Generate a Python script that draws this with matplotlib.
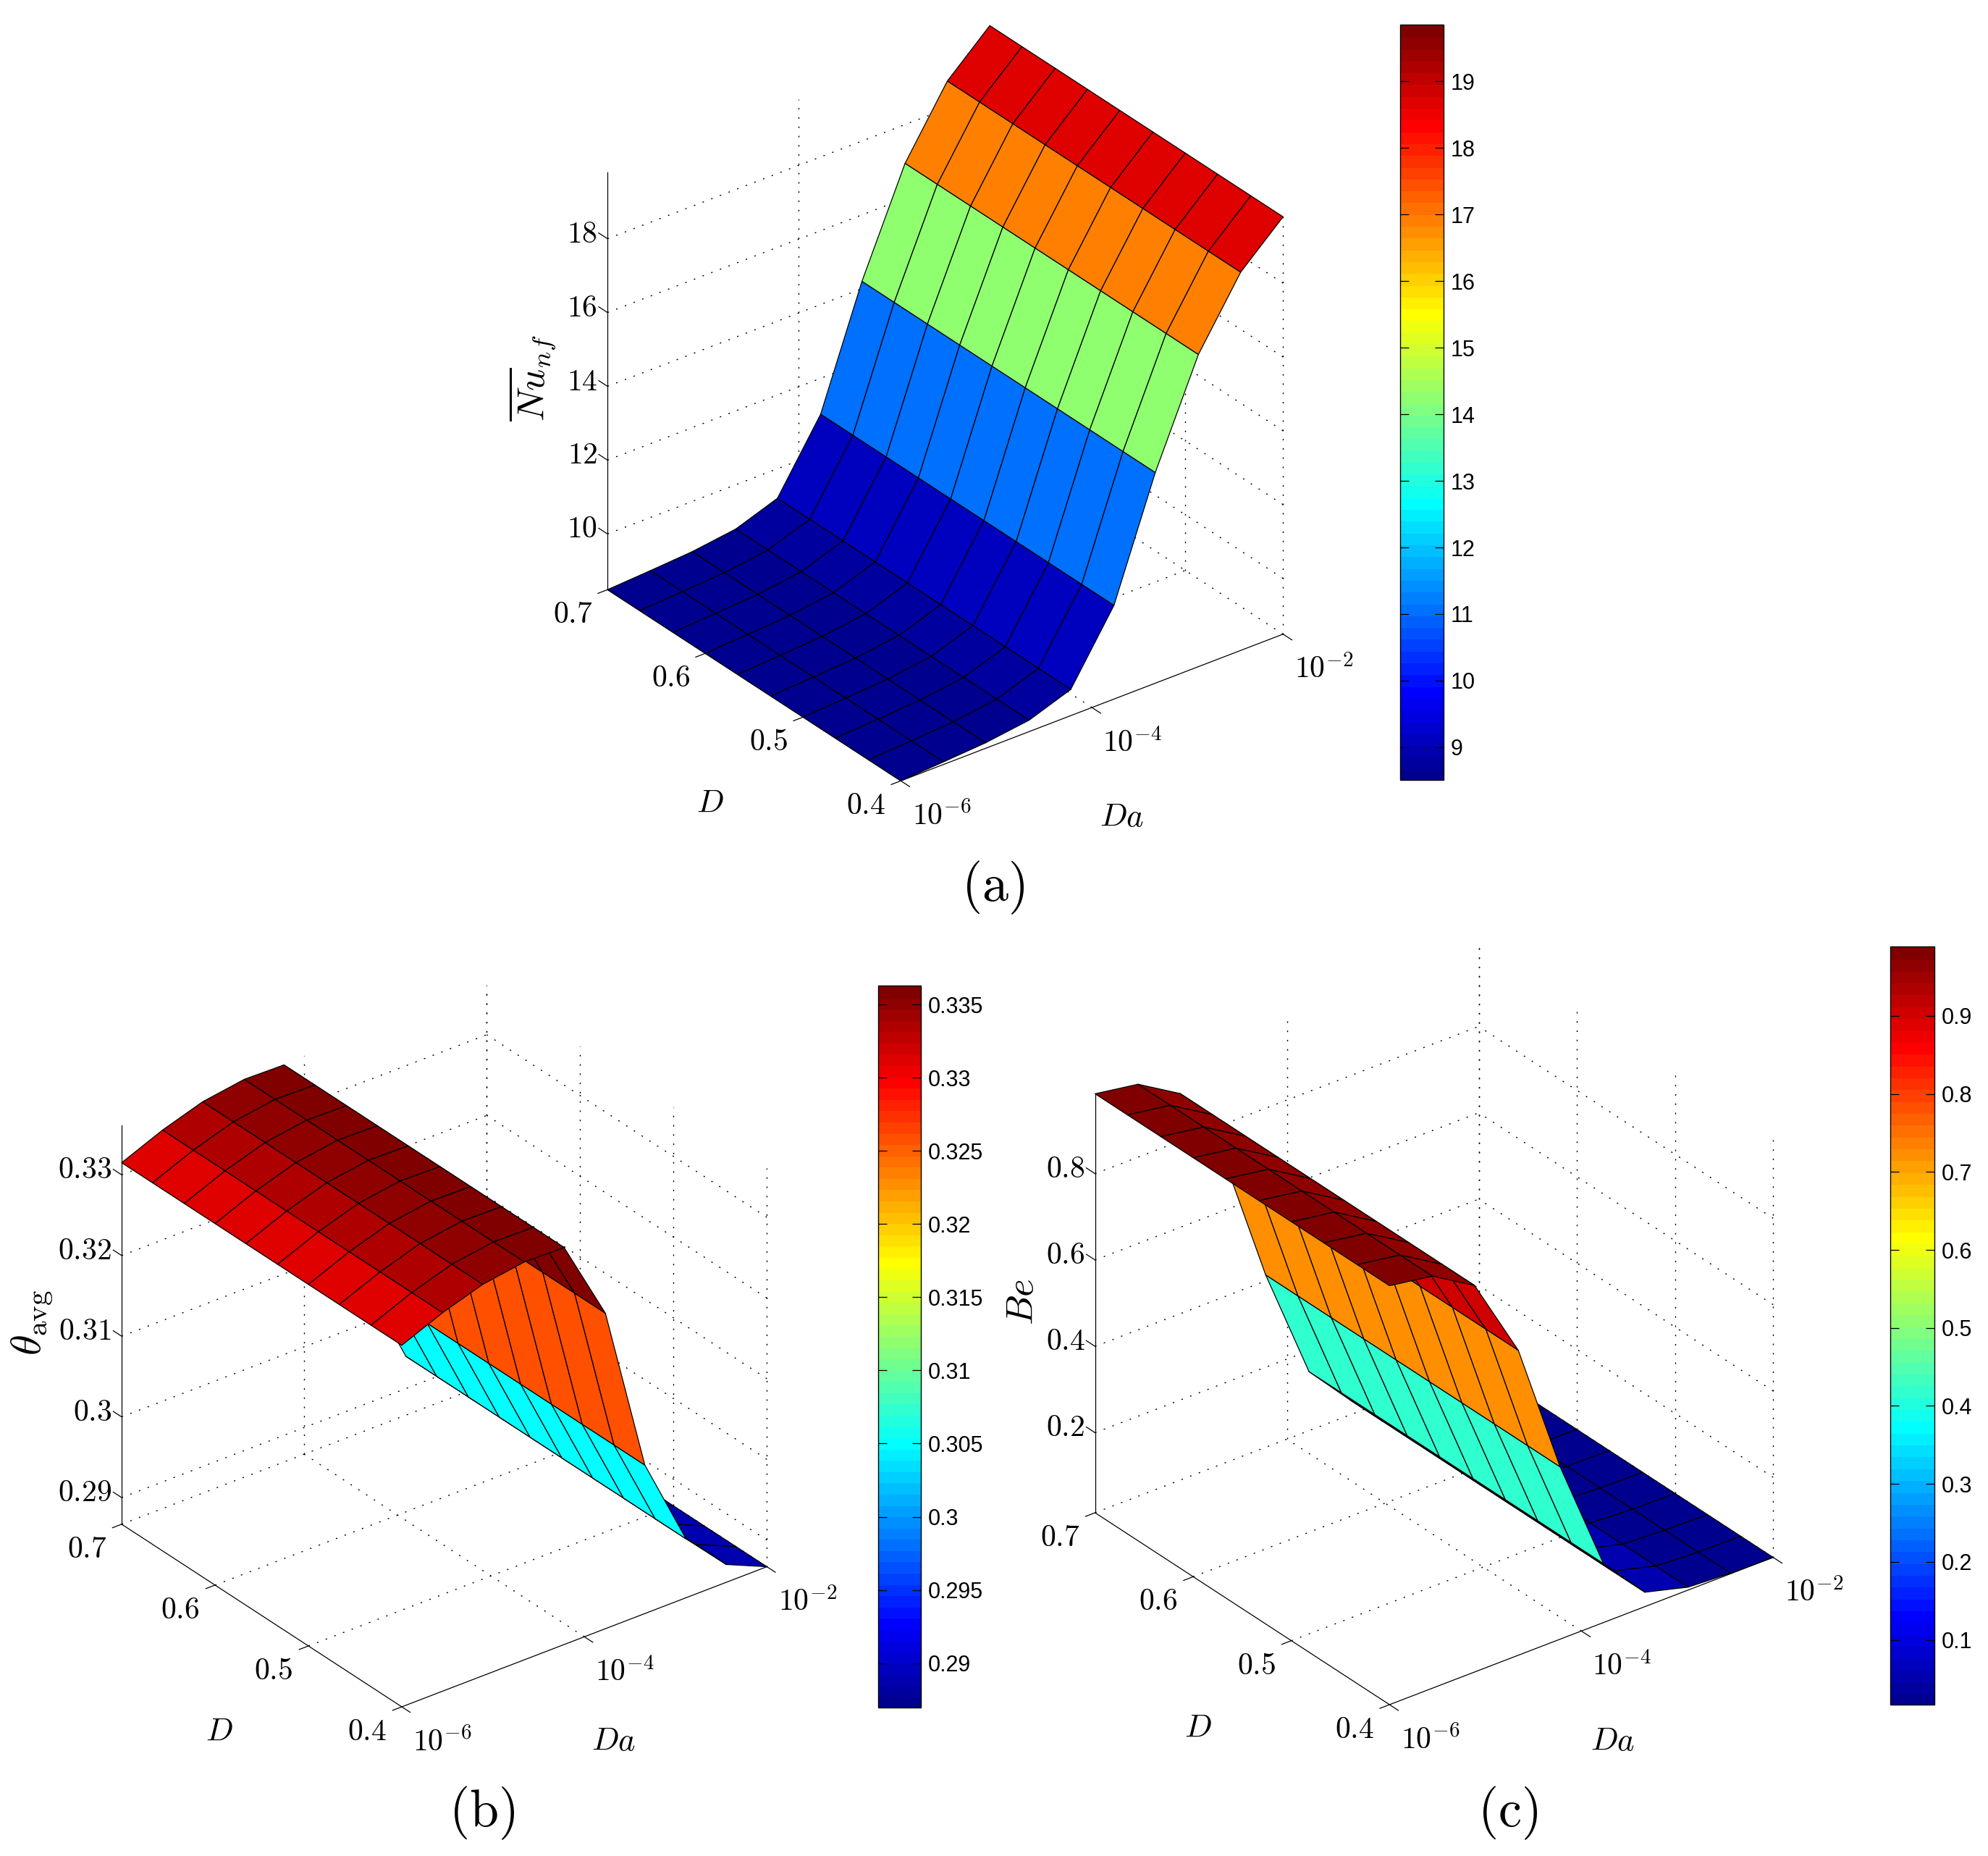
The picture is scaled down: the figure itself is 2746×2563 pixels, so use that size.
import numpy as np
import matplotlib
matplotlib.use('Agg')
import matplotlib.pyplot as plt
from matplotlib.cm import ScalarMappable
from matplotlib.colors import ListedColormap, Normalize
from mpl_toolkits.mplot3d import proj3d

plt.rcParams['mathtext.fontset'] = 'cm'
plt.rcParams['font.family'] = ['Liberation Sans', 'DejaVu Sans']

# the surfaces do not change along D, so one profile per panel
Da = [1e-6, 2.8e-6, 7.7e-6, 2.2e-5, 6e-5, 1.7e-4, 4.6e-4, 1.3e-3, 3.6e-3, 1e-2]
D = [0.4, 0.433, 0.467, 0.5, 0.533, 0.567, 0.6, 0.633, 0.667, 0.7]

nu_vals = [8.49, 8.56, 8.64, 8.8, 9.2, 11.03, 14.2, 16.95, 18.74, 19.8]
theta_vals = [0.3315, 0.3336, 0.3352, 0.336, 0.3359, 0.3258, 0.3051, 0.294, 0.2889, 0.2867]
be_vals = [0.985, 0.969, 0.91, 0.721, 0.414, 0.1512, 0.048, 0.0213, 0.016, 0.0146]

nu_ticks = [10, 12, 14, 16, 18]
nu_ticklabels = ['10', '12', '14', '16', '18']
theta_ticks = [0.29, 0.30, 0.31, 0.32, 0.33]
theta_ticklabels = ['0.29', '0.3', '0.31', '0.32', '0.33']
be_ticks = [0.2, 0.4, 0.6, 0.8]
be_ticklabels = ['0.2', '0.4', '0.6', '0.8']

nu_cbar_ticks = [9, 10, 11, 12, 13, 14, 15, 16, 17, 18, 19]
nu_cbar_labels = ['9', '10', '11', '12', '13', '14', '15', '16', '17', '18', '19']
theta_cbar_ticks = [0.29, 0.295, 0.30, 0.305, 0.31, 0.315, 0.32, 0.325, 0.33, 0.335]
theta_cbar_labels = ['0.29', '0.295', '0.3', '0.305', '0.31', '0.315', '0.32', '0.325', '0.33', '0.335']
be_cbar_ticks = [0.1, 0.2, 0.3, 0.4, 0.5, 0.6, 0.7, 0.8, 0.9]
be_cbar_labels = ['0.1', '0.2', '0.3', '0.4', '0.5', '0.6', '0.7', '0.8', '0.9']

D_ticks = [0.4, 0.5, 0.6, 0.7]
D_ticklabels = ['0.4', '0.5', '0.6', '0.7']
Da_ticks = [-6, -4, -2]
Da_ticklabels = ['$10^{-6}$', '$10^{-4}$', '$10^{-2}$']

W, H = 2746, 2563
fig = plt.figure(figsize=(W / 100, H / 100), dpi=100)


def matlab_jet(m=64):
    n = m // 4
    u = np.r_[np.arange(1, n + 1) / n, np.ones(n - 1), np.arange(n, 0, -1) / n]
    g = n // 2 + np.arange(1, len(u) + 1)
    r = g + n
    b = g - n
    cols = np.zeros((m, 3))
    cols[g[g <= m] - 1, 1] = u[g <= m]
    cols[r[r <= m] - 1, 0] = u[r <= m]
    cols[b[b >= 1] - 1, 2] = u[b >= 1]
    return ListedColormap(cols)


jet = matlab_jet()
dotted = (0, (1.5, 7.7))


def put_text(x, y, s, size, rot=0):
    fig.text(x / W, 1 - y / H, s, fontsize=size, rotation=rot, ha='center', va='center')


def surface_panel(vals, zlim, zticks, zlabels, origin, xspan, cbox, clim, cticks, clabels,
                  zlabel, zlabel_size, zlabel_xy, d_xy, da_xy, title, title_xy):
    ax = fig.add_axes([0.1, 0.1, 0.4, 0.4], projection='3d', proj_type='ortho',
                      computed_zorder=False)
    ax.set_axis_off()
    ax.patch.set_alpha(0)
    ax.set_box_aspect((1, 1, 1))
    ax.view_init(elev=30, azim=-127.5)
    ax.set_xlim(-6, -2, view_margin=0)
    ax.set_ylim(0.4, 0.7, view_margin=0)
    ax.set_zlim(zlim[0], zlim[1], view_margin=0)

    # scale and place the box so its corner lands where the reference has it
    M = ax.get_proj()
    ax.apply_aspect()

    def to_axes(x, y, z):
        px, py, _ = proj3d.proj_transform(x, y, z, M)
        return ax.transAxes.inverted().transform(ax.transData.transform((px, py)))

    a0 = to_axes(-6, 0.4, zlim[0])
    a1 = to_axes(-2, 0.4, zlim[0])
    L = xspan / (a1[0] - a0[0])
    x0 = origin[0] - L * a0[0]
    y0 = (H - origin[1]) - L * a0[1]
    ax.set_position([x0 / W, y0 / H, L / W, L / H])
    ax.apply_aspect()

    def tick_text(x, y, z, s, dx, dy, ha):
        px, py, _ = proj3d.proj_transform(x, y, z, M)
        p = ax.transData.transform((px, py))
        fig.text((p[0] + dx) / W, (p[1] + dy) / H, s, fontsize=30, ha=ha, va='center')

    # dotted grid on floor and the two back walls
    gs = dict(color='k', lw=1.0, ls=dotted, zorder=1)
    for xt in Da_ticks[1:]:
        ax.plot([xt, xt], [0.4, 0.7], [zlim[0], zlim[0]], **gs)
        ax.plot([xt, xt], [0.7, 0.7], zlim, **gs)
    for yt in D_ticks[1:]:
        ax.plot([-6, -2], [yt, yt], [zlim[0], zlim[0]], **gs)
    for yt in D_ticks:
        ax.plot([-2, -2], [yt, yt], zlim, **gs)
    for zt in zticks:
        ax.plot([-6, -2], [0.7, 0.7], [zt, zt], **gs)
        ax.plot([-2, -2], [0.4, 0.7], [zt, zt], **gs)

    # solid axes and tick stubs
    ls = dict(color='k', lw=0.9, zorder=1.5)
    ax.plot([-6, -2], [0.4, 0.4], [zlim[0], zlim[0]], **ls)
    ax.plot([-6, -6], [0.4, 0.7], [zlim[0], zlim[0]], **ls)
    ax.plot([-6, -6], [0.7, 0.7], zlim, **ls)
    for xt in Da_ticks:
        ax.plot([xt, xt], [0.4, 0.391], [zlim[0], zlim[0]], **ls)
    for yt in D_ticks:
        ax.plot([-6, -6.1], [yt, yt], [zlim[0], zlim[0]], **ls)
    for zt in zticks:
        ax.plot([-6, -6], [0.7, 0.709], [zt, zt], **ls)

    # surface, flat colour from the first vertex of each cell
    X, Y = np.meshgrid(np.log10(Da), D)
    Z = np.tile(vals, (len(D), 1))
    norm = Normalize(clim[0], clim[1])
    ax.plot_surface(X, Y, Z, facecolors=jet(norm(Z)), rstride=1, cstride=1, shade=False,
                    edgecolor='k', linewidth=0.9, antialiased=True, zorder=2)

    for yt, s in zip(D_ticks, D_ticklabels):
        tick_text(-6, yt, zlim[0], '$' + s + '$', -48, -35, 'center')
    for xt, s in zip(Da_ticks, Da_ticklabels):
        tick_text(xt, 0.4, zlim[0], s, 56, -50, 'center')
    for zt, s in zip(zticks, zlabels):
        tick_text(-6, 0.7, zt, '$' + s + '$', -14, 6, 'right')

    put_text(zlabel_xy[0], zlabel_xy[1], zlabel, zlabel_size, rot=90)
    put_text(d_xy[0], d_xy[1], '$D$', 32)
    put_text(da_xy[0], da_xy[1], '$Da$', 32)
    put_text(title_xy[0], title_xy[1], title, 52)

    # colorbar box given as left, top, right, bottom in pixels
    cax = fig.add_axes([cbox[0] / W, 1 - cbox[3] / H, (cbox[2] - cbox[0]) / W, (cbox[3] - cbox[1]) / H])
    cb = fig.colorbar(ScalarMappable(norm=norm, cmap=jet), cax=cax)
    cb.set_ticks(cticks, labels=clabels)
    cb.minorticks_off()
    cax.tick_params(axis='y', which='major', direction='in', left=True, right=True,
                    length=8.5, width=0.9, labelsize=22, pad=7)
    cb.outline.set_linewidth(1.0)
    cb.solids.set_edgecolor('face')


surface_panel(nu_vals, (8.49, 19.8), nu_ticks, nu_ticklabels, (1244.3, 1078.3), 528,
              (1934, 34, 1994, 1077), (8.51, 19.85), nu_cbar_ticks, nu_cbar_labels,
              r'$\overline{Nu}_{nf}$', 38, (735, 522), (981, 1110), (1550, 1130), r'$\mathrm{(a)}$', (1372, 1226))
surface_panel(theta_vals, (0.2867, 0.3361), theta_ticks, theta_ticklabels, (555, 2357), 504.3,
              (1213, 1361, 1272, 2358), (0.28696, 0.3363), theta_cbar_ticks, theta_cbar_labels,
              r'$\theta_{\mathrm{avg}}$', 42, (45, 1826), (303, 2392), (848, 2406), r'$\mathrm{(b)}$', (666, 2504))
surface_panel(be_vals, (0.0146, 0.985), be_ticks, be_ticklabels, (1919.3, 2354), 530,
              (2611, 1307, 2672, 2354), (0.017, 0.989), be_cbar_ticks, be_cbar_labels,
              r'$Be$', 38, (1413, 1798), (1655, 2387), (2228, 2406), r'$\mathrm{(c)}$', (2083, 2504))

fig.savefig('out.png', dpi=100)
